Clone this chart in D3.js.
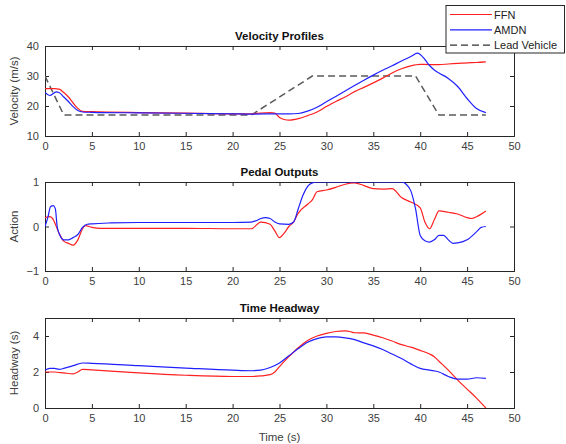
<!DOCTYPE html>
<html><head><meta charset="utf-8">
<script src="https://cdn.jsdelivr.net/npm/d3@7"></script>
<style>body{margin:0;background:#fff}svg{display:block}text{font-family:"Liberation Sans",Arial,sans-serif}</style>
</head><body><svg id="c" width="566" height="444"></svg>
<script>
// ---- data ----
const xTicks = [0,5,10,15,20,25,30,35,40,45,50];
const velT_ffn = [0,1,1.5,2,2.5,3,3.5,4,5,10,15,20,22,24,24.5,25,25.5,26,27,28,29,30,31,32,33,34,35,36,37,38,39,40,41,42,43,44,45,46,47];
const velFFN   = [25.8,25.8,25.6,24.5,23,21,19.2,18.2,18.1,17.8,17.6,17.4,17.4,17.8,17.6,16.2,15.5,15.3,15.8,16.8,18,19.8,21.5,23,24.8,26.2,27.7,29.3,31,32.4,33.4,33.9,33.8,33.8,34,34.2,34.4,34.5,34.7];
const velT_amdn = [0,0.5,1.2,1.5,2,2.5,3,3.5,4,5,10,20,22,25,26,27,28,29,30,31,32,33,34,35,36,37,38,39,39.7,40,40.5,41,41.5,42,43,44,45,46,47];
const velAMDN   = [24.5,23.5,24.7,24.5,23,21.5,19.8,18.5,18,17.9,17.7,17.4,17.3,17.4,17.4,17.5,18.3,19.6,21.4,23.2,25,26.8,28.6,30.3,31.9,33.4,35,36.5,37.6,37.2,35.5,33.5,32,31,29.2,26.5,22.5,19.2,17.8];
const leadT = [0,2,22,28.5,39.5,42,47];
const leadV = [30,17,17,30,30,17,17];
const velTicks = [10,20,30,40];

const actT_ffn = [0,0.5,0.8,1,1.5,2,2.5,3,3.5,4,4.3,5,6,10,15,20,22,23,24,24.5,25,25.5,26,26.5,27,28,28.5,29,30,31,32,33,34,35,36,37,38,39,40,40.5,41,41.5,42,43,44,45,45.5,46,47];
const actFFN   = [0.2,0.22,0.18,0.1,-0.15,-0.33,-0.38,-0.42,-0.3,-0.05,0.02,-0.02,-0.04,-0.04,-0.04,-0.05,-0.05,0.1,0.05,-0.1,-0.25,-0.15,0,0.1,0.3,0.5,0.6,0.78,0.82,0.88,0.95,0.98,0.92,0.85,0.84,0.85,0.65,0.55,0.42,0.1,-0.05,0.15,0.35,0.32,0.28,0.2,0.18,0.22,0.35];
const actT_amdn = [0,0.3,0.6,0.9,1.1,1.3,1.6,2,2.5,3,3.5,4,4.5,5,7,10,15,20,22,22.5,23,23.5,24,24.5,25,26,26.5,27,27.5,28,28.5,29,33,38,38.5,39,39.5,40,40.5,41,41.5,42,42.5,43,43.5,44,45,46,46.5,47];
const actAMDN   = [0,0.2,0.45,0.47,0.4,0,-0.2,-0.3,-0.3,-0.25,-0.18,-0.02,0.05,0.06,0.08,0.09,0.09,0.09,0.1,0.13,0.18,0.2,0.18,0.1,0.06,0.05,0.1,0.4,0.7,0.9,0.98,1,1,1,0.95,0.8,0.4,-0.2,-0.32,-0.35,-0.3,-0.2,-0.2,-0.3,-0.38,-0.37,-0.3,-0.12,-0.02,0];
const actTicks = [-1,0,1];

const hwT_ffn = [0,1,2,3,3.5,4,5,10,15,20,22,23,24,24.5,25,26,27,28,29,30,31,32,32.5,33,34,35,36,37,38,39,40,41,41.5,42,43,44,45,46,47];
const hwFFN   = [2.0,2.0,1.95,1.9,2.0,2.15,2.12,1.95,1.82,1.75,1.75,1.78,1.85,2.0,2.3,2.85,3.35,3.75,4.0,4.15,4.25,4.28,4.25,4.18,4.17,4.05,3.9,3.72,3.52,3.38,3.2,3.0,2.85,2.6,2.1,1.55,1.05,0.55,0.0];
const hwT_amdn = [0,0.5,1,1.5,2,3,4,5,10,15,20,22,23,24,25,26,27,28,29,30,31,32,33,34,35,36,37,38,39,40,41,42,43,44,45,46,47];
const hwAMDN   = [2.1,2.2,2.2,2.15,2.2,2.35,2.5,2.48,2.35,2.22,2.1,2.07,2.1,2.25,2.5,2.9,3.3,3.65,3.85,3.95,3.95,3.9,3.8,3.62,3.45,3.25,3.0,2.75,2.45,2.2,2.1,2.0,1.75,1.6,1.6,1.68,1.65];
const hwTicks = [0,2,4];

const legendLabels = ["FFN","AMDN","Lead Vehicle"];

// ---- drawing ----
const svg = d3.select("#c");
const L = 45, R = 514;
const x = d3.scaleLinear().domain([0,50]).range([L,R]);
const axisCol = "#262626", tickTextCol = "#404040";
const RED = "#ff2020", BLUE = "#2020ff";

function panel(top, bottom, yDomain, yTicks, title, ylabel, series, xlabel) {
  const y = d3.scaleLinear().domain(yDomain).range([bottom, top]);
  const g = svg.append("g");
  const id = "clip" + Math.round(top);
  svg.append("clipPath").attr("id", id).append("rect").attr("x",L).attr("y",top).attr("width",R-L).attr("height",bottom-top);
  const tl = 4;
  g.append("g").attr("transform",`translate(0,${bottom})`)
    .call(d3.axisBottom(x).tickValues(xTicks).tickSize(-tl).tickPadding(6).tickFormat(d3.format("d")));
  g.append("g").attr("transform",`translate(0,${top})`)
    .call(d3.axisTop(x).tickValues(xTicks).tickSize(-tl).tickFormat(""));
  g.append("g").attr("transform",`translate(${L},0)`)
    .call(d3.axisLeft(y).tickValues(yTicks).tickSize(-tl).tickPadding(6).tickFormat(d3.format("d")));
  g.append("g").attr("transform",`translate(${R},0)`)
    .call(d3.axisRight(y).tickValues(yTicks).tickSize(-tl).tickFormat(""));
  g.selectAll(".domain").attr("stroke",axisCol).attr("stroke-width",1);
  g.selectAll(".tick line").attr("stroke",axisCol);
  g.selectAll(".tick text").attr("fill",tickTextCol).style("font-size","11px").style("font-family","'Liberation Sans',Arial,sans-serif");
  g.append("text").attr("x",(L+R)/2).attr("y",top-6).attr("text-anchor","middle")
    .style("font-size","11.5px").style("font-weight","bold").attr("fill","#111").text(title);
  g.append("text").attr("transform",`translate(${L-27},${(top+bottom)/2}) rotate(-90)`).attr("text-anchor","middle")
    .style("font-size","11.5px").attr("fill",tickTextCol).text(ylabel);
  if (xlabel) g.append("text").attr("x",(L+R)/2).attr("y",bottom+33).attr("text-anchor","middle")
    .style("font-size","11.5px").attr("fill",tickTextCol).text(xlabel);
  const lg = g.append("g").attr("clip-path",`url(#${id})`);
  series.forEach(s => {
    const line = d3.line().x((d,i)=>x(s.t[i])).y(d=>y(d)).curve(s.linear ? d3.curveLinear : d3.curveMonotoneX);
    lg.append("path").attr("d", line(s.v)).attr("fill","none").attr("stroke",s.color)
      .attr("stroke-width",s.w||1.2).attr("stroke-dasharray",s.dash||null).attr("stroke-linejoin","round");
  });
}

panel(46, 136, [10,40], velTicks, "Velocity Profiles", "Velocity (m/s)", [
  {t:leadT, v:leadV, color:"#5a5a5a", dash:"7,4", w:1.5, linear:true},
  {t:velT_ffn, v:velFFN, color:RED},
  {t:velT_amdn, v:velAMDN, color:BLUE}
]);
panel(182, 271, [-1,1], actTicks, "Pedal Outputs", "Action", [
  {t:actT_ffn, v:actFFN, color:RED},
  {t:actT_amdn, v:actAMDN, color:BLUE}
]);
panel(318, 408, [0,5], hwTicks, "Time Headway", "Headway (s)", [
  {t:hwT_ffn, v:hwFFN, color:RED},
  {t:hwT_amdn, v:hwAMDN, color:BLUE}
], "Time (s)");

// legend
const lgd = svg.append("g");
lgd.append("rect").attr("x",446).attr("y",5.5).attr("width",118.5).attr("height",47.5).attr("fill","#fff").attr("stroke",axisCol);
const lcol = [RED, BLUE, "#333"];
legendLabels.forEach((lab,i) => {
  const yy = 14.5 + i*15.3;
  lgd.append("line").attr("x1",450).attr("x2",492).attr("y1",yy).attr("y2",yy).attr("stroke",lcol[i])
    .attr("stroke-width",1.2).attr("stroke-dasharray", i===2 ? "7,4" : null);
  lgd.append("text").attr("x",494).attr("y",yy+4).style("font-size","11px").attr("fill","#222").text(lab);
});
</script></body></html>
